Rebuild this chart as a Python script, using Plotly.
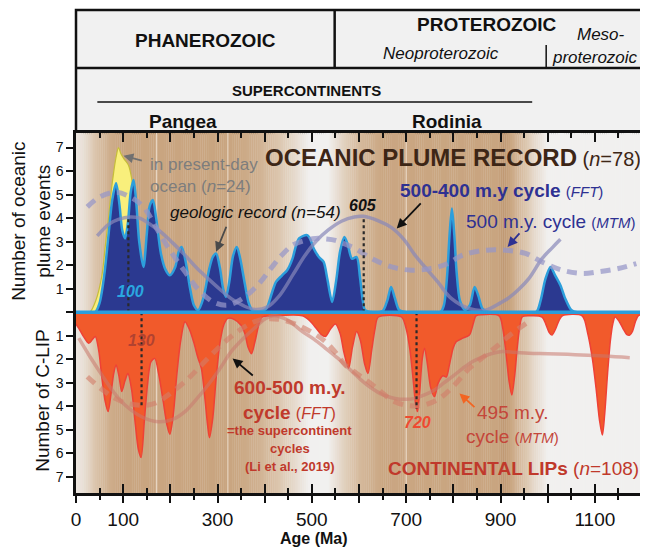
import numpy as np
import plotly.graph_objects as go

FONT = "Liberation Sans, Arial, Helvetica, sans-serif"

# ---------------- axes ----------------
age_ticks = [0, 100, 200, 300, 400, 500, 600, 700, 800, 900, 1000, 1100, 1200]
age_labels = ["0", "100", "", "300", "", "500", "", "700", "", "900", "", "1100", ""]
age_minor = [50, 150, 250, 350, 450, 550, 650, 750, 850, 950, 1050, 1150]
y_ticks = [-7, -6, -5, -4, -3, -2, -1, 0, 1, 2, 3, 4, 5, 6, 7]
y_labels = ["7", "6", "5", "4", "3", "2", "1", "", "1", "2", "3", "4", "5", "6", "7"]

# ---------------- oceanic plume record ----------------
ocean_age = [20, 30, 42, 55, 62, 69, 75, 80, 85, 90, 95, 101, 111, 118, 124, 129, 134, 139, 145, 155, 165, 175]
ocean_val = [0, 0.02, 0.5, 1.57, 2.8, 4.0, 5.2, 5.97, 6.6, 7.0, 6.75, 6.54, 6.26, 5.69, 4.6, 3.84, 2.9, 2.3, 1.8, 1.0, 0.4, 0]

plume_age = [0, 40, 50, 60, 69, 77, 85, 92, 98, 104, 110, 116, 122, 128, 134, 143, 150, 156, 163, 170,
             180, 190, 199, 210, 218, 224, 232, 242, 250, 259, 270, 282, 290, 297, 305, 312, 318, 325,
             333, 341, 348, 358, 366, 374, 390, 403, 415, 424, 437, 448, 459, 466, 473, 482, 490, 497,
             504, 515, 525, 533, 543, 552, 560, 569, 576, 585, 595, 602, 608, 613, 630, 650, 660, 668,
             676, 685, 700, 772, 780, 787, 792, 797, 802, 807, 814, 825, 835, 845, 853, 862, 875, 975,
             985, 995, 1006, 1015, 1027, 1038, 1050, 1062, 1200]
plume_val = [0, 0, 0.4, 1.6, 3.3, 4.8, 5.48, 4.6, 3.5, 3.14, 3.8, 5.1, 5.62, 4.6, 3.0, 1.93, 3.3, 4.5, 4.77, 4.0,
             2.5, 1.8, 1.57, 1.9, 2.6, 2.78, 2.2, 1.0, 0.3, 0.09, 0.6, 1.8, 2.35, 2.5, 1.9, 1.0, 0.65, 1.3,
             2.4, 2.78, 2.3, 1.2, 0.4, 0.09, 0.05, 0.15, 0.8, 1.29, 1.57, 1.8, 2.28, 2.8, 3.14, 3.25, 3.28, 3.1,
             2.71, 2.35, 2.14, 1.4, 0.44, 1.4, 2.6, 3.2, 2.9, 2.28, 2.35, 1.5, 0.5, 0.09, 0, 0.05, 0.5, 1.08,
             0.6, 0.1, 0, 0, 0.3, 1.6, 3.3, 4.41, 3.3, 1.7, 0.5, 0.1, 0.3, 1.08, 0.7, 0.15, 0, 0,
             0.5, 1.4, 1.93, 1.6, 1.15, 0.55, 0.1, 0, 0]

plume_fft_age = [45, 70, 90, 115, 135, 160, 181, 205, 231, 255, 280, 305, 329, 355, 380, 405, 431, 460, 485,
                 508, 535, 564, 590, 609, 640, 669, 695, 718, 745, 767, 795, 835, 870, 900, 918, 940, 960,
                 988, 1010, 1027]
plume_fft_val = [3.25, 3.75, 3.95, 4.05, 4.0, 3.7, 3.4, 2.95, 2.43, 1.9, 1.43, 0.98, 0.58, 0.28, 0.12, 0.22,
                 0.7, 1.6, 2.4, 3.0, 3.5, 3.88, 4.05, 4.08, 3.9, 3.6, 3.1, 2.45, 1.8, 1.29, 0.6, 0.15, 0.1,
                 0.4, 0.62, 1.0, 1.43, 2.28, 2.75, 3.1]

plume_mtm_age = [24, 50, 84, 115, 143, 170, 199, 230, 258, 290, 320, 350, 385, 413, 435, 459, 485, 508, 530,
                 550, 570, 592, 627, 669, 711, 753, 788, 820, 869, 911, 953, 988, 1031, 1073, 1108, 1150, 1188]
plume_mtm_val = [4.48, 4.9, 5.1, 4.9, 4.48, 3.6, 2.64, 1.75, 1.0, 0.45, 0.3, 0.55, 1.15, 1.86, 2.4, 2.85, 3.05,
                 3.14, 3.12, 3.06, 2.9, 2.71, 2.28, 1.93, 1.79, 1.86, 2.07, 2.43, 2.64, 2.64, 2.5, 2.14, 1.79,
                 1.65, 1.72, 1.86, 2.07]

plume_peak_age = [111, 610]
plume_peak_top = [4.05, 4.06]

# ---------------- continental LIP record (plotted downward) ----------------
lip_age = [0, 6, 15, 27, 35, 41, 48, 55, 62, 68, 74, 80, 85, 91, 97, 104, 110, 118, 126, 132, 138, 145, 152,
           159, 167, 175, 185, 193, 199, 206, 214, 222, 231, 240, 250, 258, 266, 273, 279, 283, 290, 298,
           306, 314, 322, 335, 350, 358, 365, 372, 380, 388, 395, 420, 480, 495, 510, 520, 529, 540, 550,
           560, 568, 578, 586, 595, 603, 612, 619, 627, 634, 641, 690, 700, 708, 715, 720, 724, 729, 734,
           739, 745, 752, 760, 768, 778, 785, 792, 800, 806, 820, 834, 842, 848, 860, 897, 905, 912, 918,
           924, 930, 936, 941, 946, 960, 988, 996, 1003, 1009, 1017, 1024, 1031, 1073, 1085, 1095, 1103,
           1110, 1116, 1121, 1127, 1133, 1138, 1143, 1152, 1160, 1168, 1174, 1180, 1186, 1192, 1200]
lip_val = [-0.5, -0.68, -1.0, -1.32, -1.15, -1.03, -1.6, -2.8, -3.8, -4.22, -3.5, -2.6, -2.24, -2.7, -3.37,
           -2.9, -2.6, -3.3, -4.8, -5.8, -6.17, -4.6, -3.0, -2.1, -1.96, -2.6, -3.8, -4.8, -5.18, -4.4,
           -2.6, -1.2, -0.4, -0.7, -1.3, -1.9, -2.4, -3.6, -4.8, -5.33, -4.5, -2.6, -1.2, -0.5, -0.26,
           -0.3, -0.55, -0.9, -1.5, -1.76, -1.2, -0.5, -0.2, -0.15, -0.15, -0.35, -0.7, -0.95, -1.03,
           -0.7, -0.5, -0.9, -1.7, -2.38, -1.5, -0.82, -1.2, -2.2, -2.6, -1.6, -0.7, -0.2, -0.2, -0.7,
           -1.6, -2.9, -3.9, -4.22, -3.3, -2.0, -1.53, -2.2, -3.2, -3.59, -3.0, -2.7, -2.75, -2.2, -1.5,
           -1.25, -1.1, -0.97, -0.5, -0.15, -0.1, -0.15, -0.7, -1.8, -2.9, -3.52, -2.7, -1.4, -0.6, -0.2,
           -0.15, -0.2, -0.5, -0.85, -0.97, -0.7, -0.35, -0.15, -0.15, -0.9, -2.0, -3.3, -4.6, -5.22,
           -4.3, -2.6, -1.2, -0.5, -0.2, -0.4, -0.7, -0.95, -0.97, -0.8, -0.4, -0.15, -0.1]

lip_fft_age = [6, 30, 55, 80, 104, 140, 174, 205, 231, 255, 280, 305, 329, 355, 378, 400, 420, 450, 480, 505,
               529, 555, 578, 603, 627, 650, 676, 700, 718, 740, 760, 780, 802, 820, 840, 862, 880, 904, 930,
               960, 1000, 1058, 1120, 1174]
lip_fft_val = [-1.1, -1.9, -2.67, -3.4, -3.94, -4.45, -4.65, -4.55, -4.22, -3.7, -3.09, -2.4, -1.67, -1.1,
               -0.68, -0.3, -0.15, -0.35, -0.82, -1.15, -1.53, -1.95, -2.38, -2.85, -3.23, -3.5, -3.66, -3.7,
               -3.66, -3.5, -3.3, -3.0, -2.67, -2.38, -2.1, -1.89, -1.76, -1.67, -1.7, -1.74, -1.76, -1.8,
               -1.86, -1.93]

lip_mtm_age = [24, 52, 83, 115, 153, 175, 195, 231, 266, 301, 329, 364, 395, 430, 465, 500, 529, 550, 571,
               595, 620, 645, 669, 697, 720, 739, 771, 799, 834, 869, 895, 925, 945, 964]
lip_mtm_val = [-2.74, -3.23, -3.66, -3.9, -3.94, -3.8, -3.52, -2.95, -2.24, -1.53, -1.03, -0.54, -0.3, -0.3,
               -0.5, -0.85, -1.25, -1.7, -2.24, -2.6, -2.95, -3.35, -3.73, -3.94, -3.98, -3.94, -3.66, -3.16,
               -2.38, -1.82, -1.4, -0.89, -0.6, -0.33]

lip_peak_age = [139, 722]
lip_peak_bottom = [-3.96, -4.1]

# ---------------- background shading (age bands) ----------------
bg_age = [0, 15, 40, 70, 95, 330, 380, 430, 470, 495, 535, 560, 600, 650, 895, 905, 920, 945, 970, 1000, 1200]
bg_level = [0.12, 0.2, 0.5, 0.8, 0.92, 0.92, 0.8, 0.5, 0.22, 0.02, 0.02, 0.3, 0.65, 0.9, 0.92, 1.0, 0.92,
            0.6, 0.3, 0.02, 0.02]
light_line_age = [171, 322, 700]
shade_stops = [0, 0.2, 0.5, 0.92, 1.0]
shade_rgb = [(242, 242, 242), (233, 224, 214), (220, 198, 174), (201, 165, 128), (191, 152, 114)]

YR = [-7.68, 7.62]


def shade_color(level):
    r = np.interp(level, shade_stops, [c[0] for c in shade_rgb])
    g = np.interp(level, shade_stops, [c[1] for c in shade_rgb])
    b = np.interp(level, shade_stops, [c[2] for c in shade_rgb])
    return "rgb(%d,%d,%d)" % (round(r), round(g), round(b))


shapes = []
step = 4.0
for a0 in np.arange(0, 1200, step):
    lvl = float(np.interp(a0 + step / 2, bg_age, bg_level))
    shapes.append(dict(type="rect", xref="x", yref="y", x0=a0, x1=a0 + step + 0.6, y0=YR[0], y1=YR[1],
                       fillcolor=shade_color(lvl), line=dict(width=0), layer="below"))

fig = go.Figure()

lx, ly = [], []
for a in light_line_age:
    lx += [a, a, None]
    ly += [YR[0], YR[1], None]
fig.add_trace(go.Scatter(x=lx, y=ly, mode="lines", line=dict(color="rgba(250,242,232,0.75)", width=1),
                         hoverinfo="skip"))

fig.add_trace(go.Scatter(x=ocean_age, y=ocean_val, mode="lines", fill="tozeroy",
                         fillcolor="#f9ef7c", line=dict(color="#c6bd3a", width=1.2, shape="spline", smoothing=0.8),
                         hoverinfo="skip"))
fig.add_trace(go.Scatter(x=plume_age, y=plume_val, mode="lines", fill="tozeroy",
                         fillcolor="#2b3990", line=dict(color="#2d9fdc", width=2.5, shape="spline", smoothing=0.8),
                         hoverinfo="skip"))
fig.add_trace(go.Scatter(x=lip_age, y=lip_val, mode="lines", fill="tozeroy",
                         fillcolor="#f15a2b", line=dict(color="#ef4136", width=1.5, shape="spline", smoothing=0.8),
                         hoverinfo="skip"))
# zero line (drawn on secondary x axis so that axis exists)
fig.add_trace(go.Scatter(x=[0, 1200], y=[0, 0], mode="lines", line=dict(color="#2b9ddb", width=3.5),
                         xaxis="x2", hoverinfo="skip"))

fig.add_trace(go.Scatter(x=plume_fft_age, y=plume_fft_val, mode="lines",
                         line=dict(color="rgba(135,135,185,0.7)", width=3.5, shape="spline"), hoverinfo="skip"))
fig.add_trace(go.Scatter(x=plume_mtm_age, y=plume_mtm_val, mode="lines",
                         line=dict(color="rgba(150,150,200,0.72)", width=5, shape="spline", dash="10px,7px"),
                         hoverinfo="skip"))
fig.add_trace(go.Scatter(x=lip_fft_age, y=lip_fft_val, mode="lines",
                         line=dict(color="rgba(200,120,110,0.55)", width=3.5, shape="spline"), hoverinfo="skip"))
fig.add_trace(go.Scatter(x=lip_mtm_age, y=lip_mtm_val, mode="lines",
                         line=dict(color="rgba(210,125,105,0.6)", width=5, shape="spline", dash="10px,7px"),
                         hoverinfo="skip"))

dx, dy = [], []
for a, t in zip(plume_peak_age, plume_peak_top):
    dx += [a, a, None]
    dy += [0, t, None]
for a, b in zip(lip_peak_age, lip_peak_bottom):
    dx += [a, a, None]
    dy += [0, b, None]
fig.add_trace(go.Scatter(x=dx, y=dy, mode="lines", line=dict(color="#2a2a2a", width=2.2, dash="dot"),
                         hoverinfo="skip"))

ann = []


def txt(x, y, text, size, color, xanchor="center", align="center", ref="data", angle=0):
    d = dict(x=x, y=y, text=text, showarrow=False, xanchor=xanchor, yanchor="middle", align=align,
             font=dict(family=FONT, size=size, color=color), textangle=angle)
    if ref == "paper":
        d.update(xref="paper", yref="paper")
    else:
        d.update(xref="x", yref="y")
    ann.append(d)


def arrow(hx, hy, tx, ty, color):
    ann.append(dict(x=hx, y=hy, ax=tx, ay=ty, xref="x", yref="y", axref="x", ayref="y", text="",
                    showarrow=True, arrowhead=2, arrowsize=1.1, arrowwidth=1.8, arrowcolor=color, standoff=0))


txt(397, 6.6, "<b>OCEANIC PLUME RECORD</b><span style='font-size:20px'> (<i>n</i>=78)</span>", 24, "#3d2616",
    xanchor="left")
txt(152, 5.81, "in present-day<br>ocean (<i>n</i>=24)", 17, "#7d7d7d", xanchor="left", align="left")
txt(194, 4.26, "<i>geologic record (n=54)</i>", 17, "#111111", xanchor="left")
txt(609.5, 4.55, "<b><i>605</i></b>", 16, "#111111")
txt(115, 0.89, "<b><i>100</i></b>", 16, "#2aa7e0")
txt(683, 5.17, "<b>500-400 m.y cycle</b> <span style='font-size:15px'>(<i>FFT</i>)</span>", 19, "#2e3192",
    xanchor="left")
txt(823.6, 3.87, "500 m.y. cycle <span style='font-size:15px'>(<i>MTM</i>)</span>", 19, "#2e3192",
    xanchor="left")
txt(139, -1.18, "<b><i>130</i></b>", 16, "rgba(160,60,50,0.8)")
txt(725, -4.68, "<b><i>720</i></b>", 16, "#ef4a31")
txt(453, -3.21, "<b>600-500 m.y.</b>", 19, "#c0392b")
txt(453, -4.26, "<b>cycle</b> <span style='font-size:16px'>(<i>FFT</i>)</span>", 19, "#c0392b")
txt(453, -5.04, "<b>=the supercontinent</b>", 13, "#c0392b")
txt(453, -5.79, "<b>cycles</b>", 13, "#c0392b")
txt(453, -6.55, "<b>(Li et al., 2019)</b>", 13, "#c0392b")
txt(925, -4.26, "495 m.y.", 19, "#c4463a")
txt(925, -5.26, "cycle <span style='font-size:15px'>(<i>MTM</i>)</span>", 19, "#c4463a")
txt(658, -6.64, "<b>CONTINENTAL LIPs</b> (<i>n</i>=108)", 19, "#c0392b", xanchor="left")

arrow(100.6, 6.65, 142.7, 6.43, "#707070")
arrow(297, 2.57, 320, 3.70, "#4a4a4a")
arrow(680, 3.56, 734, 4.69, "#111111")
arrow(915, 2.78, 943, 3.42, "#2e3192")
arrow(332, -1.96, 378, -2.74, "#111111")
arrow(813, -3.45, 848, -4.09, "#f26522")

# header
txt(0.229, 1.2556, "<b>PHANEROZOIC</b>", 19, "#111111", ref="paper")
txt(0.727, 1.300, "<b>PROTEROZOIC</b>", 19, "#111111", ref="paper")
txt(0.927, 1.275, "<i>Meso-</i>", 17, "#111111", ref="paper")
txt(0.917, 1.211, "<i>proterozoic</i>", 17, "#111111", ref="paper")
txt(0.645, 1.222, "<i>Neoproterozoic</i>", 17, "#111111", ref="paper")
txt(0.408, 1.119, "<b>SUPERCONTINENTS</b>", 15, "#111111", ref="paper")
txt(0.1886, 1.033, "<b>Pangea</b>", 19, "#111111", ref="paper")
txt(0.655, 1.033, "<b>Rodinia</b>", 19, "#111111", ref="paper")

# axis titles
txt(-0.1009, 0.7556, "Number of oceanic", 19, "#111111", ref="paper", angle=-90)
txt(-0.057, 0.7556, "plume events", 19, "#111111", ref="paper", angle=-90)
txt(-0.0605, 0.2583, "Number of C-LIP", 19, "#111111", ref="paper", angle=-90)
txt(0.42, -0.127, "<b>Age (Ma)</b>", 16, "#111111", ref="paper")

shapes += [
    dict(type="rect", xref="paper", yref="paper", x0=0, x1=1, y0=1.0, y1=1.342, fillcolor="#f1f1f1",
         line=dict(color="#111111", width=2.5), layer="below"),
    dict(type="line", xref="paper", yref="paper", x0=0, x1=1, y0=1.1806, y1=1.1806,
         line=dict(color="#111111", width=2.5)),
    dict(type="line", xref="paper", yref="paper", x0=0.457, x1=0.457, y0=1.1806, y1=1.342,
         line=dict(color="#111111", width=2.5)),
    dict(type="line", xref="paper", yref="paper", x0=0.8307, x1=0.8307, y0=1.1806, y1=1.2444,
         line=dict(color="#111111", width=1.5)),
    dict(type="line", xref="paper", yref="paper", x0=0.0377, x1=0.806, y0=1.086, y1=1.086,
         line=dict(color="#111111", width=1.5)),
]

# The page body adds an 8px margin; the figure is sized to fill the rest of the 648x554 window.
fig.update_layout(
    width=640, height=546, autosize=False,
    margin=dict(l=68, r=3, t=125, b=61),
    paper_bgcolor="white", plot_bgcolor="#f2f2f2",
    showlegend=False,
    font=dict(family=FONT, color="#111111"),
    annotations=ann, shapes=shapes,
    xaxis=dict(range=[0, 1200], tickmode="array", tickvals=age_ticks, ticktext=age_labels,
               ticks="outside", ticklen=7, tickwidth=2, tickcolor="#111111",
               minor=dict(tickmode="array", tickvals=age_minor, ticks="outside", ticklen=4, tickwidth=2,
                          tickcolor="#111111"),
               showline=True, linewidth=2.5, linecolor="#111111", mirror=False,
               showgrid=False, zeroline=False, tickfont=dict(size=19, family=FONT, color="#111111")),
    xaxis2=dict(range=[0, 1200], overlaying="x", anchor="y", side="bottom", tickmode="array",
                tickvals=age_ticks, ticks="inside", ticklen=9, tickwidth=2, tickcolor="#111111",
                minor=dict(tickmode="array", tickvals=age_minor, ticks="inside", ticklen=5, tickwidth=2,
                           tickcolor="#111111"),
                showticklabels=False, showline=True, linewidth=2.5, linecolor="#111111", mirror="ticks",
                showgrid=False, zeroline=False),
    yaxis=dict(range=YR, tickmode="array", tickvals=y_ticks, ticktext=y_labels,
               ticks="outside", ticklen=7, tickwidth=2, tickcolor="#111111",
               showline=True, linewidth=2.5, linecolor="#111111", mirror=True,
               showgrid=False, zeroline=False, tickfont=dict(size=14, family=FONT, color="#111111")),
)

fig.write_html("out.html")
